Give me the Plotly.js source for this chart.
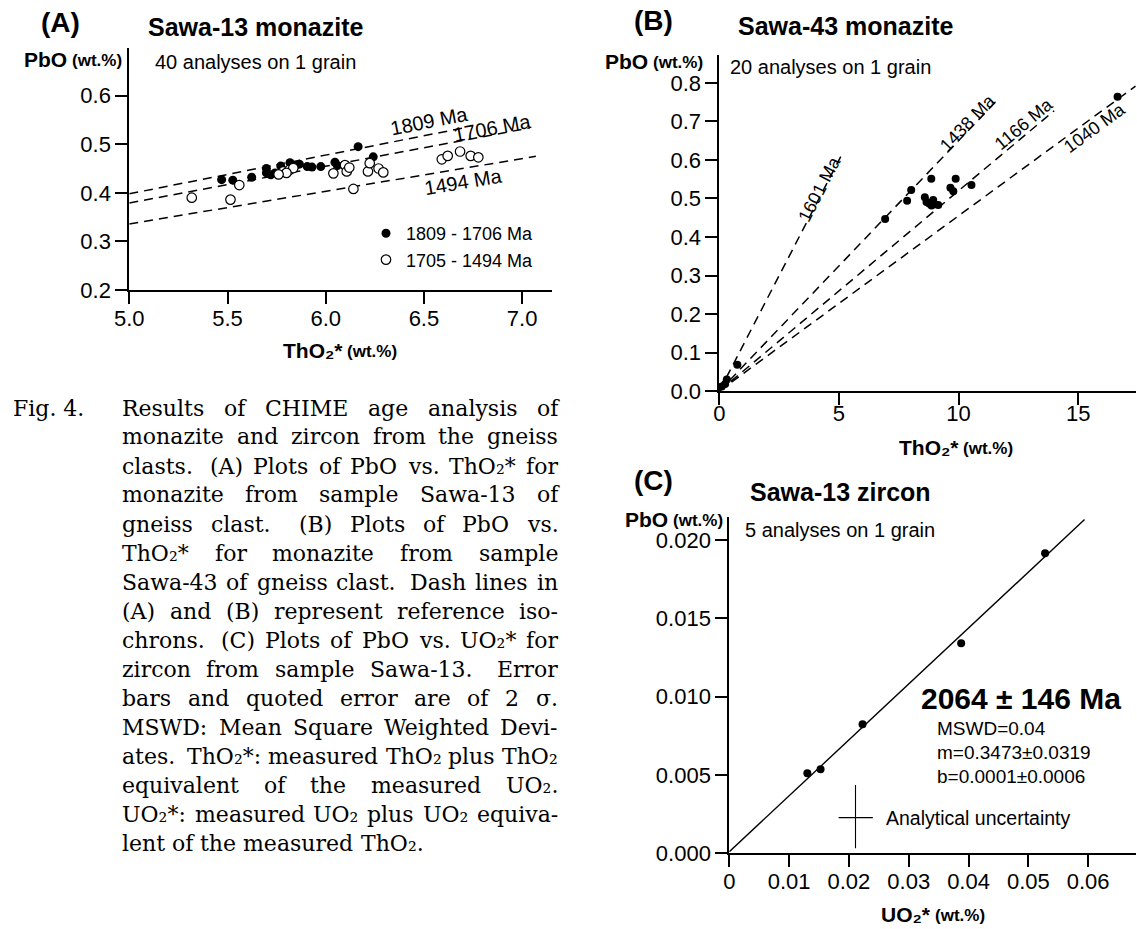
<!DOCTYPE html>
<html><head><meta charset="utf-8">
<script src="https://cdn.plot.ly/plotly-3.0.1.min.js"></script>
<style>html,body{margin:0;padding:0;background:#fff}#chart{width:1137px;height:929px}</style>
</head><body><div id="chart"></div>
<script>
// ---------------- Panel A : Sawa-13 monazite ----------------
const aFilledX = [5.470, 5.527, 5.623, 5.698, 5.698, 5.742, 5.771, 5.818, 5.866, 5.906, 5.930, 5.975, 6.047, 6.059, 6.165, 6.242, 5.845, 5.720];
const aFilledY = [0.427, 0.426, 0.432, 0.450, 0.441, 0.441, 0.455, 0.462, 0.459, 0.454, 0.453, 0.454, 0.463, 0.456, 0.495, 0.474, 0.456, 0.437];
const aOpenX = [5.318, 5.515, 5.560, 5.784, 5.815, 5.835, 6.039, 6.098, 6.107, 6.141, 6.215, 6.224, 6.269, 6.293, 6.591, 6.621, 6.684, 6.738, 6.777, 5.800, 6.120, 5.760];
const aOpenY = [0.390, 0.386, 0.416, 0.444, 0.447, 0.451, 0.440, 0.457, 0.444, 0.408, 0.444, 0.461, 0.450, 0.442, 0.469, 0.476, 0.485, 0.476, 0.473, 0.441, 0.452, 0.438];
const aSeriesNames = ['1809 - 1706 Ma', '1705 - 1494 Ma'];
const aIsoLabels = ['1809 Ma', '1706 Ma', '1494 Ma'];
const aIsoSlopes = [0.0796, 0.0758, 0.0672];
const aIsoStartX = [5.0, 5.0, 5.0];
const aIsoEndX = [6.72, 7.04, 7.07];
const aIsoLabelX = [6.529, 6.847, 6.699];
const aIsoLabelY = [0.547, 0.533, 0.422];
const aXTicks = [5.0, 5.5, 6.0, 6.5, 7.0];
const aXTickText = ['5.0', '5.5', '6.0', '6.5', '7.0'];
const aYTicks = [0.2, 0.3, 0.4, 0.5, 0.6];
const aYTickText = ['0.2', '0.3', '0.4', '0.5', '0.6'];

// ---------------- Panel B : Sawa-43 monazite ----------------
const bX = [0.10, 0.24, 0.31, 0.75, 6.93, 7.85, 8.02, 8.86, 8.59, 8.66, 8.77, 8.94, 9.01, 8.87, 9.15, 9.66, 9.78, 9.88, 10.54, 16.65];
const bY = [0.012, 0.018, 0.030, 0.068, 0.447, 0.494, 0.522, 0.551, 0.503, 0.491, 0.487, 0.496, 0.485, 0.482, 0.483, 0.528, 0.519, 0.551, 0.535, 0.764];
const bIsoLabels = ['1601 Ma', '1438 Ma', '1166 Ma', '1040 Ma'];
const bIsoSlopes = [0.120, 0.065, 0.052, 0.0455];
const bIsoEndX = [5.1, 11.6, 14.0, 17.4];
const bIsoLabelX = [4.185, 10.37, 12.73, 15.68];
const bIsoLabelY = [0.525, 0.697, 0.694, 0.684];
const bXTicks = [0, 5, 10, 15];
const bXTickText = ['0', '5', '10', '15'];
const bYTicks = [0.0, 0.1, 0.2, 0.3, 0.4, 0.5, 0.6, 0.7, 0.8];
const bYTickText = ['0.0', '0.1', '0.2', '0.3', '0.4', '0.5', '0.6', '0.7', '0.8'];

// ---------------- Panel C : Sawa-13 zircon ----------------
const cX = [0.01305, 0.01526, 0.02228, 0.03877, 0.0528];
const cY = [0.00511, 0.00536, 0.00823, 0.0134, 0.01915];
const cFitX = [0, 0.0594];
const cFitY = [0.0001, 0.0213];
const cErrCenter = [0.0211, 0.00228];
const cErrYRange = [0.00032, 0.00436];
const cErrXRange = [0.01828, 0.0240];
const cXTicks = [0, 0.01, 0.02, 0.03, 0.04, 0.05, 0.06];
const cXTickText = ['0', '0.01', '0.02', '0.03', '0.04', '0.05', '0.06'];
const cYTicks = [0, 0.005, 0.010, 0.015, 0.020];
const cYTickText = ['0.000', '0.005', '0.010', '0.015', '0.020'];
const cAge = '2064 ± 146 Ma';
const cStats = ['MSWD=0.04', 'm=0.3473±0.0319', 'b=0.0001±0.0006'];

// ---------------- Caption ----------------
const captionLabel = 'Fig. 4.';
const captionLines = [
  'Results of CHIME age analysis of',
  'monazite and zircon from the gneiss',
  'clasts.  (A) Plots of PbO vs. ThO₂* for',
  'monazite from sample Sawa-13 of',
  'gneiss clast.  (B) Plots of PbO vs.',
  'ThO₂* for monazite from sample',
  'Sawa-43 of gneiss clast.  Dash lines in',
  '(A) and (B) represent reference iso-',
  'chrons.  (C) Plots of PbO vs. UO₂* for',
  'zircon from sample Sawa-13.  Error',
  'bars and quoted error are of 2 σ.',
  'MSWD: Mean Square Weighted Devi-',
  'ates.  ThO₂*: measured ThO₂ plus ThO₂',
  'equivalent of the measured UO₂.',
  'UO₂*: measured UO₂ plus UO₂ equiva-',
  'lent of the measured ThO₂.'
];

// ---------------- geometry ----------------
const W = 1137, H = 929;
const SANS = 'Liberation Sans, Arial, Helvetica, sans-serif';
const SERIF = 'DejaVu Serif, Liberation Serif, serif';
const PA = {x0: 129.3, x1: 551.6, yb: 290, yt: 48, xr: [5.0, 7.15], yr: [0.2, 0.698], lab: 13};
const PB = {x0: 719.4, x1: 1136, yb: 391, yt: 55, xr: [0, 17.42], yr: [0, 0.8727], lab: 7};
const PC = {x0: 729.3, x1: 1136, yb: 853.3, yt: 516.7, xr: [0, 0.068], yr: [0, 0.021485], lab: 13};

function xdom(p) { return [p.x0 / W, p.x1 / W]; }
function ydom(p) { return [1 - p.yb / H, 1 - p.yt / H]; }
function pxPerX(p) { return (p.x1 - p.x0) / (p.xr[1] - p.xr[0]); }
function pxPerY(p) { return (p.yb - p.yt) / (p.yr[1] - p.yr[0]); }

const TICKFONT = {family: SANS, size: 22, color: '#000'};
function axis(p, isX, vals, txt, anchor) {
  return {
    domain: isX ? xdom(p) : ydom(p),
    range: isX ? p.xr : p.yr,
    anchor: anchor,
    showline: true, linecolor: '#000', linewidth: 2,
    ticks: 'outside', ticklen: 12, tickwidth: 2, tickcolor: '#000',
    tickmode: 'array', tickvals: vals, ticktext: txt,
    showticklabels: !isX,
    showgrid: false, zeroline: false, fixedrange: true,
    tickfont: TICKFONT
  };
}
// companion x axis that only carries the tick labels (lets them sit close to the tick marks)
function labelAxis(p, vals, txt, base, anchor) {
  return {
    overlaying: base, anchor: anchor, side: 'bottom', range: p.xr,
    showline: false, ticks: '', showgrid: false, zeroline: false, fixedrange: true,
    tickmode: 'array', tickvals: vals, ticktext: txt, ticklabelstandoff: p.lab,
    tickfont: TICKFONT
  };
}

const traces = [];
const dashStyle = '9px,6px';

// Panel A isochrons
aIsoSlopes.forEach((s, i) => {
  traces.push({x: [aIsoStartX[i], aIsoEndX[i]], y: [s * aIsoStartX[i], s * aIsoEndX[i]],
    mode: 'lines', line: {color: '#000', width: 1.5, dash: dashStyle},
    xaxis: 'x', yaxis: 'y', showlegend: false, hoverinfo: 'skip'});
});
traces.push({x: aFilledX, y: aFilledY, mode: 'markers', name: aSeriesNames[0],
  marker: {size: 9, color: '#000'}, xaxis: 'x', yaxis: 'y', cliponaxis: false});
traces.push({x: aOpenX, y: aOpenY, mode: 'markers', name: aSeriesNames[1],
  marker: {size: 9.5, color: '#fff', line: {color: '#000', width: 1.2}}, xaxis: 'x', yaxis: 'y', cliponaxis: false});

// Panel B isochrons
bIsoSlopes.forEach((s, i) => {
  traces.push({x: [0, bIsoEndX[i]], y: [0, s * bIsoEndX[i]],
    mode: 'lines', line: {color: '#000', width: 1.5, dash: dashStyle},
    xaxis: 'x2', yaxis: 'y2', showlegend: false, hoverinfo: 'skip', cliponaxis: false});
});
traces.push({x: bX, y: bY, mode: 'markers', marker: {size: 8, color: '#000'},
  xaxis: 'x2', yaxis: 'y2', showlegend: false, cliponaxis: false});

// Panel C
traces.push({x: cFitX, y: cFitY, mode: 'lines', line: {color: '#000', width: 1.4},
  xaxis: 'x3', yaxis: 'y3', showlegend: false, hoverinfo: 'skip'});
traces.push({x: [cErrCenter[0], cErrCenter[0]], y: cErrYRange, mode: 'lines', line: {color: '#000', width: 1.1},
  xaxis: 'x3', yaxis: 'y3', showlegend: false, hoverinfo: 'skip'});
traces.push({x: cErrXRange, y: [cErrCenter[1], cErrCenter[1]], mode: 'lines', line: {color: '#000', width: 1.1},
  xaxis: 'x3', yaxis: 'y3', showlegend: false, hoverinfo: 'skip'});
traces.push({x: cX, y: cY, mode: 'markers', marker: {size: 8, color: '#000'},
  xaxis: 'x3', yaxis: 'y3', showlegend: false, cliponaxis: false});

// empty traces that bind the tick-label axes to their subplots
[['x4', 'y'], ['x5', 'y2'], ['x6', 'y3']].forEach(([xa, ya]) => {
  traces.push({x: [], y: [], mode: 'markers', xaxis: xa, yaxis: ya, showlegend: false, hoverinfo: 'skip'});
});

// ---------------- text helpers ----------------
const anns = [];
const ctx = document.createElement('canvas').getContext('2d');
function measure(word, size, family, weight) {
  const fam = family === SERIF ? '"DejaVu Serif"' : '"Liberation Sans"';
  ctx.font = (weight === 'bold' ? 'bold ' : '') + size + 'px ' + fam;
  return ctx.measureText(word).width;
}
function ann(text, px, py, size, opt) {
  opt = opt || {};
  anns.push(Object.assign({
    text: text, xref: 'paper', yref: 'paper', x: px / W, y: 1 - py / H,
    showarrow: false, xanchor: 'center', yanchor: 'middle', borderpad: 0,
    font: {family: opt.family || SANS, size: size, color: '#000', weight: opt.weight || 'normal'}
  }, opt.extra || {}));
}
// a run of bold texts of different sizes placed side by side
function run(parts, px, py, anchor) {
  const widths = parts.map(p => measure(p.t, p.s, SANS, 'bold'));
  const gap = 5;
  const total = widths.reduce((a, b) => a + b, 0) + gap * (parts.length - 1);
  let x = anchor === 'right' ? px - total : anchor === 'center' ? px - total / 2 : px;
  parts.forEach((p, i) => {
    ann(p.t, x, py + (p.dy || 0), p.s, {weight: 'bold', extra: {xanchor: 'left'}});
    x += widths[i] + gap;
  });
}

// panel letters & titles
ann('(A)', 60, 22, 28, {weight: 'bold'});
ann('Sawa-13 monazite', 255, 27, 25, {weight: 'bold'});
ann('(B)', 653, 20, 28, {weight: 'bold'});
ann('Sawa-43 monazite', 845, 26, 25, {weight: 'bold'});
ann('(C)', 653, 480, 28, {weight: 'bold'});
ann('Sawa-13 zircon', 840, 492, 25, {weight: 'bold'});
// y titles
const yTitle = [{t: 'PbO', s: 21}, {t: '(wt.%)', s: 17, dy: 1}];
run(yTitle, 121.5, 59, 'right');
run(yTitle, 702, 61, 'right');
run(yTitle, 722, 519, 'right');
// x titles
run([{t: 'ThO₂*', s: 21}, {t: '(wt.%)', s: 17, dy: 1}], 339, 350, 'center');
run([{t: 'ThO₂*', s: 21}, {t: '(wt.%)', s: 17, dy: 1}], 955, 447, 'center');
run([{t: 'UO₂*', s: 21}, {t: '(wt.%)', s: 17, dy: 1}], 932, 914, 'center');
// subtitles
ann('40 analyses on 1 grain', 153.6, 62, 20, {extra: {xanchor: 'left'}});
ann('20 analyses on 1 grain', 729, 67, 20, {extra: {xanchor: 'left'}});
ann('5 analyses on 1 grain', 744, 530, 20, {extra: {xanchor: 'left'}});
// panel C stats
ann(cAge, 1021, 698, 30, {weight: 'bold'});
cStats.forEach((s, i) => ann(s, 936, 728 + i * 24, 19, {extra: {xanchor: 'left'}}));
ann('Analytical uncertainty', 885, 818, 19.5, {extra: {xanchor: 'left'}});

// isochron labels
aIsoLabels.forEach((t, i) => {
  const ang = -Math.atan(aIsoSlopes[i] * pxPerY(PA) / pxPerX(PA)) * 180 / Math.PI;
  anns.push({text: t, xref: 'x', yref: 'y', x: aIsoLabelX[i], y: aIsoLabelY[i], showarrow: false,
    textangle: ang, borderpad: 0, font: {family: SANS, size: 20, color: '#000'}});
});
bIsoLabels.forEach((t, i) => {
  const ang = -Math.atan(bIsoSlopes[i] * pxPerY(PB) / pxPerX(PB)) * 180 / Math.PI;
  anns.push({text: t, xref: 'x2', yref: 'y2', x: bIsoLabelX[i], y: bIsoLabelY[i], showarrow: false,
    textangle: ang, borderpad: 0, font: {family: SANS, size: 18, color: '#000'}});
});

// caption (justified, word by word)
const capLeft = 121, capRight = 557, capTop = 408, capStep = 29;
function tokens(line) {
  const parts = line.split(/( +)/);
  const words = [], gaps = [];
  parts.forEach(p => {
    if (p.trim() === '') { if (p.length) gaps.push(p.length > 1 ? 1.6 : 1); }
    else words.push(p);
  });
  return {words, gaps};
}
let capSize = 22;
const avail = capRight - capLeft;
let maxNat = 0;
captionLines.forEach(l => {
  const t = tokens(l);
  const sp = measure(' ', capSize, SERIF);
  const nat = t.words.reduce((a, w) => a + measure(w, capSize, SERIF), 0) + t.gaps.reduce((a, g) => a + g * sp * 0.8, 0);
  maxNat = Math.max(maxNat, nat);
});
if (maxNat > avail) capSize = capSize * avail / maxNat;
ann(captionLabel, 12, capTop, capSize, {family: SERIF, extra: {xanchor: 'left'}});
captionLines.forEach((l, li) => {
  const t = tokens(l);
  const ww = t.words.map(w => measure(w, capSize, SERIF));
  const sumW = ww.reduce((a, b) => a + b, 0);
  const sumG = t.gaps.reduce((a, b) => a + b, 0);
  let g = measure(' ', capSize, SERIF);
  if (li < captionLines.length - 1 && sumG > 0) g = (avail - sumW) / sumG;
  let cx = capLeft;
  t.words.forEach((w, wi) => {
    ann(w, cx, capTop + li * capStep, capSize, {family: SERIF, extra: {xanchor: 'left'}});
    cx += ww[wi] + (wi < t.gaps.length ? t.gaps[wi] * g : 0);
  });
});

const layout = {
  width: W, height: H,
  margin: {l: 0, r: 0, t: 0, b: 0},
  paper_bgcolor: '#fff', plot_bgcolor: 'rgba(0,0,0,0)',
  font: {family: SANS, color: '#000'},
  showlegend: true,
  legend: {x: 366 / W, y: 1 - 215 / H, xanchor: 'left', yanchor: 'top',
    font: {family: SANS, size: 18, color: '#000'}, bgcolor: 'rgba(0,0,0,0)', borderwidth: 0,
    itemclick: false, itemdoubleclick: false},
  xaxis: axis(PA, true, aXTicks, aXTickText, 'y'),
  yaxis: axis(PA, false, aYTicks, aYTickText, 'x'),
  xaxis2: axis(PB, true, bXTicks, bXTickText, 'y2'),
  yaxis2: axis(PB, false, bYTicks, bYTickText, 'x2'),
  xaxis3: axis(PC, true, cXTicks, cXTickText, 'y3'),
  yaxis3: axis(PC, false, cYTicks, cYTickText, 'x3'),
  xaxis4: labelAxis(PA, aXTicks, aXTickText, 'x', 'y'),
  xaxis5: labelAxis(PB, bXTicks, bXTickText, 'x2', 'y2'),
  xaxis6: labelAxis(PC, cXTicks, cXTickText, 'x3', 'y3'),
  annotations: anns
};
Plotly.newPlot('chart', traces, layout, {displayModeBar: false, staticPlot: true});
</script>
</body></html>
